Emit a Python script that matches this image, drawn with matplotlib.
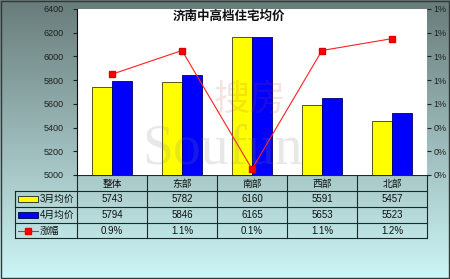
import numpy as np
import matplotlib
matplotlib.use("Agg")
import matplotlib.pyplot as plt
from matplotlib.ticker import FuncFormatter
from matplotlib.patches import Rectangle

plt.rcParams['font.family'] = ['Liberation Sans', 'Noto Sans CJK SC', 'DejaVu Sans']

# ---- data ----
title = "济南中高档住宅均价"
categories = ["整体", "东部", "南部", "西部", "北部"]
series_names = ["3月均价", "4月均价", "涨幅"]
march = [5743, 5782, 6160, 5591, 5457]
april = [5794, 5846, 6165, 5653, 5523]
growth = [0.9, 1.1, 0.1, 1.1, 1.2]          # percent
growth_labels = ["0.9%", "1.1%", "0.1%", "1.1%", "1.2%"]
left_ticks = [5000, 5200, 5400, 5600, 5800, 6000, 6200, 6400]

W, H = 450, 279
fig = plt.figure(figsize=(W / 100, H / 100), dpi=100)

# ---- background gradient ----
bg = fig.add_axes([0, 0, 1, 1], zorder=0)
top = np.array([104, 124, 122]) / 255
bot = np.array([205, 246, 246]) / 255
t = np.linspace(0, 1, H)[:, None, None]
grad = top * (1 - t) + bot * t
grad = np.repeat(grad, 2, axis=1)
bg.imshow(grad, aspect='auto', extent=[0, W, H, 0])
bg.set_xlim(0, W); bg.set_ylim(H, 0)
bg.axis('off')
bg.add_patch(Rectangle((1, 1), W - 2.5, H - 2.5, fill=False, ec='#303838', lw=1.0))

# ---- main axes ----
L, R, T, B = 77, 427, 9, 175
ax = fig.add_axes([L / W, 1 - B / H, (R - L) / W, (B - T) / H], zorder=2)
x = np.arange(len(categories))
w = 0.29
ax.bar(x - w / 2, march, w, color='#FFFF00', edgecolor='#3a3a10', lw=0.6, zorder=2)
ax.bar(x + w / 2, april, w, color='#0000FF', edgecolor='#000060', lw=0.6, zorder=2)
ax.set_xlim(-0.5, len(categories) - 0.5)
ax.set_ylim(left_ticks[0], left_ticks[-1])
ax.set_yticks(left_ticks)
ax.tick_params(axis='y', labelsize=6.5, length=3, width=0.8, pad=6.5, colors='#202020')
ax.set_xticks([])
for s in ['top', 'right', 'bottom']:
    ax.spines[s].set_visible(False)
ax.spines['left'].set_color('#101010')
ax.spines['left'].set_linewidth(0.8)
ax.set_facecolor('white')

ax2 = ax.twinx()
ax2.set_zorder(3)
ax2.patch.set_visible(False)
ax2.plot(x, growth, color='#FF2020', lw=0.8, marker='s', ms=4.5,
         mfc='#FF0000', mec='#E00000', zorder=4)
ax2.set_ylim(0.05, 1.45)
ax2.set_yticks(np.linspace(0.05, 1.45, 8))
ax2.yaxis.set_major_formatter(FuncFormatter(lambda v, p: f"{v:.0f}%"))
ax2.tick_params(axis='y', labelsize=6.5, length=3, width=0.8, pad=1.5, colors='#202020')
for s in ax2.spines.values():
    s.set_visible(False)

ax.text(0.434, 0.952, title, transform=ax.transAxes, ha='center', va='center',
        fontsize=9, fontweight='bold', color='#101010', zorder=5)

# ---- data table (pixel overlay) ----
ov = fig.add_axes([0, 0, 1, 1], zorder=1)
ov.set_xlim(0, W); ov.set_ylim(H, 0); ov.axis('off')
ov.patch.set_visible(False)
colw = (R - L) / len(categories)
edges = [L + i * colw for i in range(len(categories) + 1)]
legL = 15
rows_y = [175, 191, 207, 223, 238]
lc = '#1a2a2a'
lw = 0.8
ov.plot([L, R], [rows_y[0]] * 2, color=lc, lw=lw)
for yy in rows_y[1:]:
    ov.plot([legL, R], [yy] * 2, color=lc, lw=lw)
for xx in edges:
    ov.plot([xx, xx], [rows_y[0], rows_y[-1]], color=lc, lw=lw)
ov.plot([legL, legL], [rows_y[1], rows_y[-1]], color=lc, lw=lw)

fs = 7
for i, cx in enumerate([(edges[i] + edges[i + 1]) / 2 for i in range(len(categories))]):
    ov.text(cx, 183.5, categories[i], ha='center', va='center', fontsize=fs, color='#101010')
    ov.text(cx, 199.5, str(march[i]), ha='center', va='center', fontsize=fs, color='#101010')
    ov.text(cx, 215.5, str(april[i]), ha='center', va='center', fontsize=fs, color='#101010')
    ov.text(cx, 231, growth_labels[i], ha='center', va='center', fontsize=fs, color='#101010')

# legend keys
ov.add_patch(Rectangle((18, 196), 20, 6, fc='#FFFF00', ec='#202020', lw=0.6))
ov.add_patch(Rectangle((18, 212), 20, 6, fc='#0000FF', ec='#000040', lw=0.6))
ov.plot([18, 38], [231, 231], color='#FF2020', lw=0.8)
ov.plot([28], [231], marker='s', ms=4.5, color='#FF0000', mec='#E00000')
for yy, name in zip([199, 215, 231], series_names):
    ov.text(40, yy, name, ha='left', va='center', fontsize=fs, color='#101010')

# ---- faint watermark (plot area only) ----
wm = fig.add_axes([0, 0, 1, 1], zorder=10)
wm.set_xlim(0, W); wm.set_ylim(H, 0); wm.axis('off')
wm.patch.set_visible(False)
wm.text(222, 150, "Soufun", ha='center', va='center', fontsize=40,
        family='Liberation Serif', color='#808080', alpha=0.18)
wm.text(250, 100, "搜房", ha='center', va='center', fontsize=26,
        family=['Noto Sans CJK SC'], color='#b05040', alpha=0.15)

fig.savefig("out.png", dpi=100)
